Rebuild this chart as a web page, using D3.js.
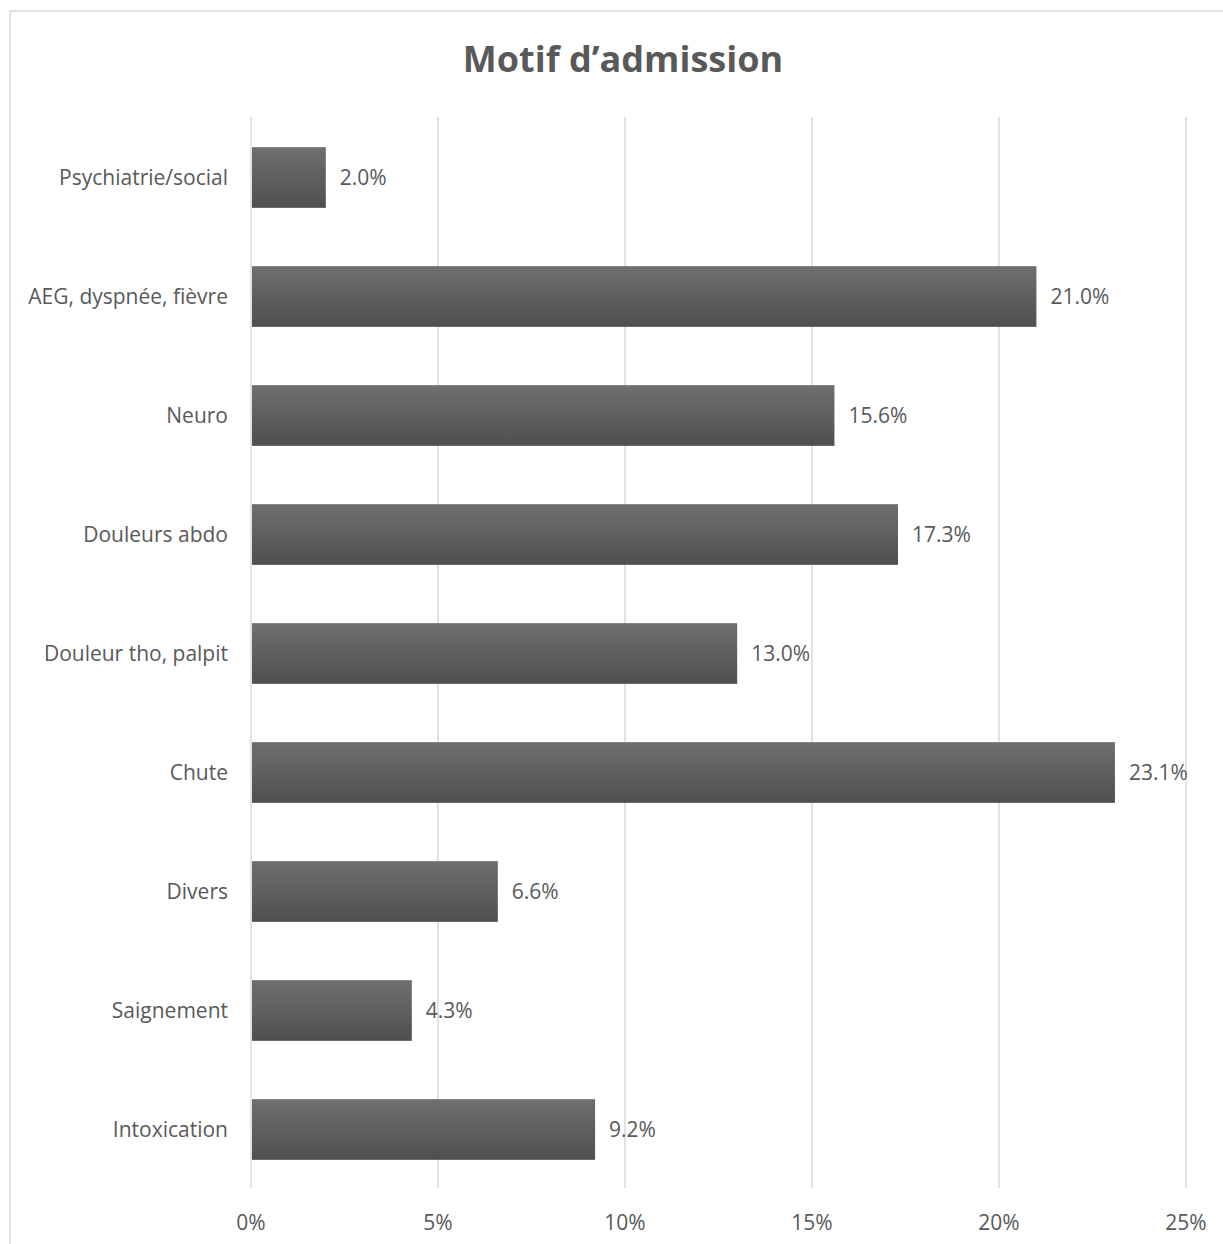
<!DOCTYPE html>
<html><head><meta charset="utf-8">
<script src="https://cdn.jsdelivr.net/npm/d3@7"></script>
<style>body{margin:0;background:#fff}svg{display:block}</style>
</head><body>
<script>
const categories = ["Psychiatrie/social","AEG, dyspnée, fièvre","Neuro","Douleurs abdo","Douleur tho, palpit","Chute","Divers","Saignement","Intoxication"];
const values = [2.0, 21.0, 15.6, 17.3, 13.0, 23.1, 6.6, 4.3, 9.2];
const ticks = [0, 5, 10, 15, 20, 25];
const title = "Motif d’admission";

(function(){
const W = 1223, H = 1244;
const svg = d3.select("body").append("svg").attr("width", W).attr("height", H);
const defs = svg.append("defs");
const g = defs.append("linearGradient").attr("id","barg").attr("x1",0).attr("y1",0).attr("x2",0).attr("y2",1);
g.append("stop").attr("offset","0%").attr("stop-color","#6f6f6f");
g.append("stop").attr("offset","100%").attr("stop-color","#4f4f4f");

svg.append("rect").attr("x",10).attr("y",11).attr("width",1240).attr("height",1260)
  .attr("fill","#fff").attr("stroke","#d9d9d9").attr("stroke-width",1.5);

const pl = 251, pr = 1186, pt = 117, pb = 1188;
const x = d3.scaleLinear().domain([0,25]).range([pl,pr]);
const y = d3.scaleBand().domain(categories).range([pt,pb]).paddingInner(0.49).paddingOuter(0.245);

const font = "Open Sans, Noto Sans, sans-serif";
const fs = 21;

svg.append("g").selectAll("line").data(ticks).join("line")
  .attr("x1",d=>x(d)).attr("x2",d=>x(d)).attr("y1",pt).attr("y2",pb)
  .attr("stroke","#d9d9d9").attr("stroke-width",1.5);

svg.append("g").selectAll("rect").data(values).join("rect")
  .attr("x",x(0)+1).attr("y",(d,i)=>y(categories[i])+1)
  .attr("width",d=>x(d)-x(0)-1).attr("height",y.bandwidth())
  .attr("fill","url(#barg)");

svg.append("g").selectAll("text").data(values).join("text")
  .attr("x",d=>x(d)+14).attr("y",(d,i)=>y(categories[i])+y.bandwidth()/2+1)
  .attr("dy","0.35em").attr("font-family",font).attr("font-size",fs).attr("fill","#595959")
  .text(d=>d.toFixed(1)+"%");

svg.append("g").selectAll("text").data(categories).join("text")
  .attr("x",228).attr("y",d=>y(d)+y.bandwidth()/2+1).attr("dy","0.35em")
  .attr("text-anchor","end").attr("font-family",font).attr("font-size",fs).attr("fill","#595959")
  .text(d=>d);

svg.append("g").selectAll("text").data(ticks).join("text")
  .attr("x",d=>x(d)).attr("y",1223).attr("dy","0.35em").attr("text-anchor","middle")
  .attr("font-family",font).attr("font-size",fs).attr("fill","#595959")
  .text(d=>d+"%");

svg.append("text").attr("x",623).attr("y",72).attr("text-anchor","middle")
  .attr("font-family",font).attr("font-weight","bold").attr("font-size",36).attr("fill","#595959")
  .text(title);
})();
</script>
</body></html>
